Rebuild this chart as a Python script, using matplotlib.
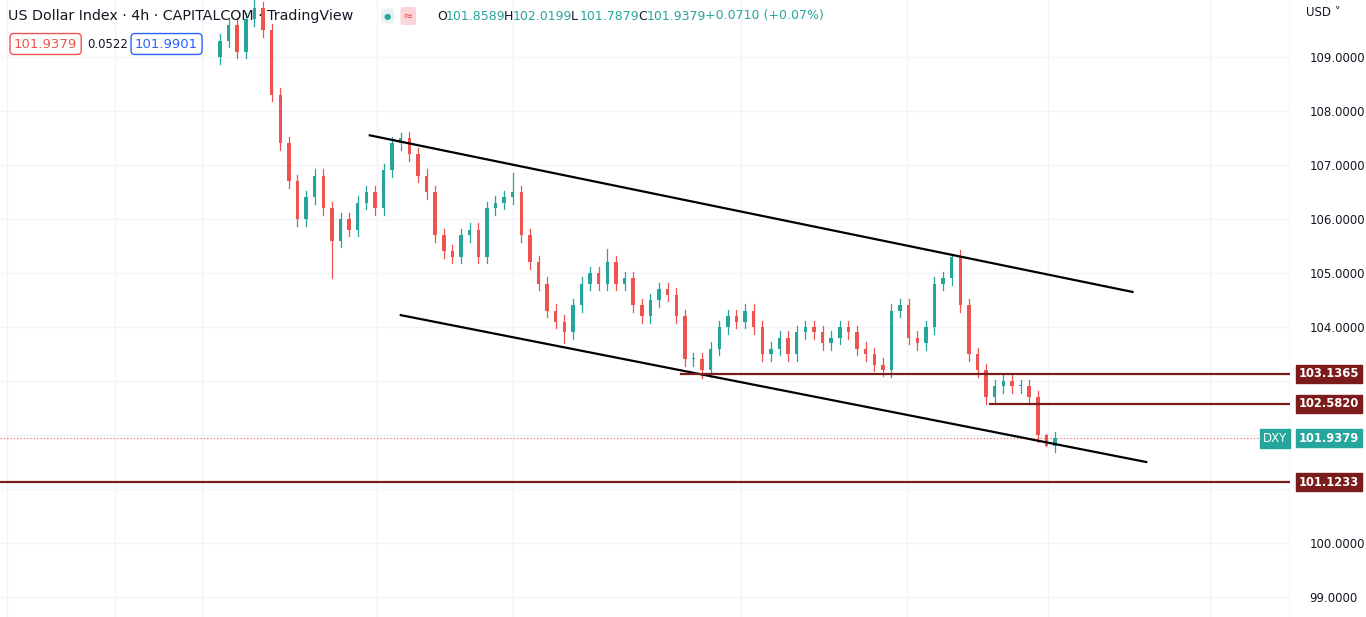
import matplotlib
matplotlib.use("Agg")
import matplotlib.pyplot as plt
from matplotlib.patches import Rectangle

closes = [109.3,109.6,109.1,109.7,109.9,109.5,108.3,107.4,106.7,106.0,106.4,106.8,106.2,105.6,106.0,105.8,
          106.3,106.5,106.2,106.9,107.4,107.5,107.2,106.8,106.5,105.7,105.4,105.3,105.7,105.8,105.3,106.2,
          106.3,106.4,106.5,105.7,105.2,104.8,104.3,104.1,103.9,104.4,104.8,105.0,104.8,105.2,104.8,104.9,
          104.4,104.2,104.5,104.7,104.6,104.2,103.4,103.4,103.2,103.6,104.0,104.2,104.1,104.3,104.0,103.5,
          103.6,103.8,103.5,103.9,104.0,103.9,103.7,103.8,104.0,103.9,103.6,103.5,103.3,103.2,104.3,104.4,
          103.8,103.7,104.0,104.8,104.9,105.3,104.4,103.5,103.2,102.7,102.9,103.0,102.9,102.9,102.7,102.0,
          101.8,101.9379]
first_open = 109.0
wick = 0.12
extreme_lows = {13: 104.9, 40: 103.7, 56: 103.05, 77: 103.1, 96: 101.7879}
extreme_highs = {4: 110.2, 21: 107.6, 34: 106.85, 45: 105.45, 85: 105.35, 96: 102.0199}

levels = [103.1365, 102.5820, 101.1233]
level_start = [53.5, 89.5, -40]
last_price = 101.9379
yticks = [99, 100, 101, 102, 103, 104, 105, 106, 107, 108, 109]
hidden_tick_labels = [101, 102, 103]
upper = [(17.4, 107.55), (106.0, 104.65)]
lower = [(21.0, 104.22), (107.6, 101.5)]
ohlc_labels = ["O", "H", "L", "C", ""]
ohlc_values = ["101.8589", "102.0199", "101.7879", "101.9379", "+0.0710 (+0.07%)"]

n = len(closes)
px0, px1 = 220, 1055
sp = (px1 - px0) / (n - 1)
xl = (-px0 / sp, (1290 - px0) / sp)

fig = plt.figure(figsize=(13.66, 6.17), dpi=100)
ax = fig.add_axes([0, 0, 1290 / 1366, 1])
ax.set_xlim(*xl)
ax.set_ylim(110.056 - 617 / 54, 110.056)
for s in ax.spines.values():
    s.set_visible(False)
ax.set_xticks([])
ax.yaxis.tick_right()
ax.set_yticks(yticks)
ax.set_yticklabels(["" if v in hidden_tick_labels else f"{v:.4f}" for v in yticks],
                   fontsize=8.5, color="#131722")
ax.tick_params(axis="y", length=0, pad=14)
for v in yticks:
    ax.axhline(v, color="#f0f3fa", lw=1, zorder=0)
for gx in [7, 115, 202, 377, 513, 741, 907, 1048, 1210]:
    ax.axvline((gx - px0) / sp, color="#f0f3fa", lw=1, zorder=0)
ax.axvline(xl[1], color="#e0e3eb", lw=1)

green, red = "#26a69a", "#ef5350"
o = first_open
for i, c in enumerate(closes):
    col = green if c >= o else red
    hi = extreme_highs.get(i, max(o, c) + wick)
    lo = extreme_lows.get(i, min(o, c) - wick)
    ax.plot([i, i], [lo, hi], color=col, lw=0.9, zorder=3)
    h = max(abs(c - o), 0.02)
    ax.add_patch(Rectangle((i - 0.2, min(o, c)), 0.4, h, color=col, zorder=3, lw=0))
    o = c

ax.plot(*zip(*upper), color="black", lw=1.6, zorder=4)
ax.plot(*zip(*lower), color="black", lw=1.6, zorder=4)
lc = "#7b1b1b"
for lv, st in zip(levels, level_start):
    ax.plot([st, xl[1]], [lv, lv], color=lc, lw=1.6, zorder=4)
ax.axhline(last_price, color=red, lw=0.8, ls=(0, (1, 2)), zorder=2)

def tag(y, txt, fc, x=1.007, fs=8.3):
    ax.text(x, y, txt, transform=ax.get_yaxis_transform(), fontsize=fs, fontweight="bold",
            color="white", va="center", ha="left",
            bbox=dict(boxstyle="square,pad=0.22", fc=fc, ec=fc), zorder=10, clip_on=False)

for lv in levels:
    tag(lv, f"{lv:.4f}", lc)
tag(last_price, f"{last_price:.4f}", green)
ax.text(0.998, last_price, "DXY", transform=ax.get_yaxis_transform(), fontsize=8.5,
        color="white", va="center", ha="right",
        bbox=dict(boxstyle="square,pad=0.25", fc=green, ec=green), zorder=10)

fig.text(1306 / 1366, 1 - 13 / 617, "USD \u02c5", fontsize=8.5, va="center", color="#131722")
fig.text(8 / 1366, 1 - 16 / 617, "US Dollar Index · 4h · CAPITALCOM · TradingView", fontsize=10.3,
         va="center", color="#131722")
fig.text(384 / 1366, 1 - 16 / 617, "\u25cf", fontsize=6, va="center", color=green,
         bbox=dict(boxstyle="round,pad=0.35", fc="#e6f4f1", ec="none"))
fig.text(403 / 1366, 1 - 16 / 617, "\u2248", fontsize=9, va="center", color=red,
         bbox=dict(boxstyle="round,pad=0.2", fc="#fbd5d8", ec="none"))
for k, (lab, val) in enumerate(zip(ohlc_labels, ohlc_values)):
    x = 437 + 67 * k
    if lab:
        fig.text(x / 1366, 1 - 16 / 617, lab, fontsize=9, va="center", color="#131722")
        x += 9
    fig.text(x / 1366, 1 - 16 / 617, val, fontsize=9, va="center", color=green)
fig.text(14 / 1366, 1 - 44 / 617, "101.9379", fontsize=9.5, va="center", color=red,
         bbox=dict(boxstyle="round,pad=0.3", fc="white", ec=red))
fig.text(87 / 1366, 1 - 44 / 617, "0.0522", fontsize=8.5, va="center", color="#131722")
fig.text(135 / 1366, 1 - 44 / 617, "101.9901", fontsize=9.5, va="center", color="#2962ff",
         bbox=dict(boxstyle="round,pad=0.3", fc="white", ec="#2962ff"))
fig.savefig("out.png", dpi=100)
